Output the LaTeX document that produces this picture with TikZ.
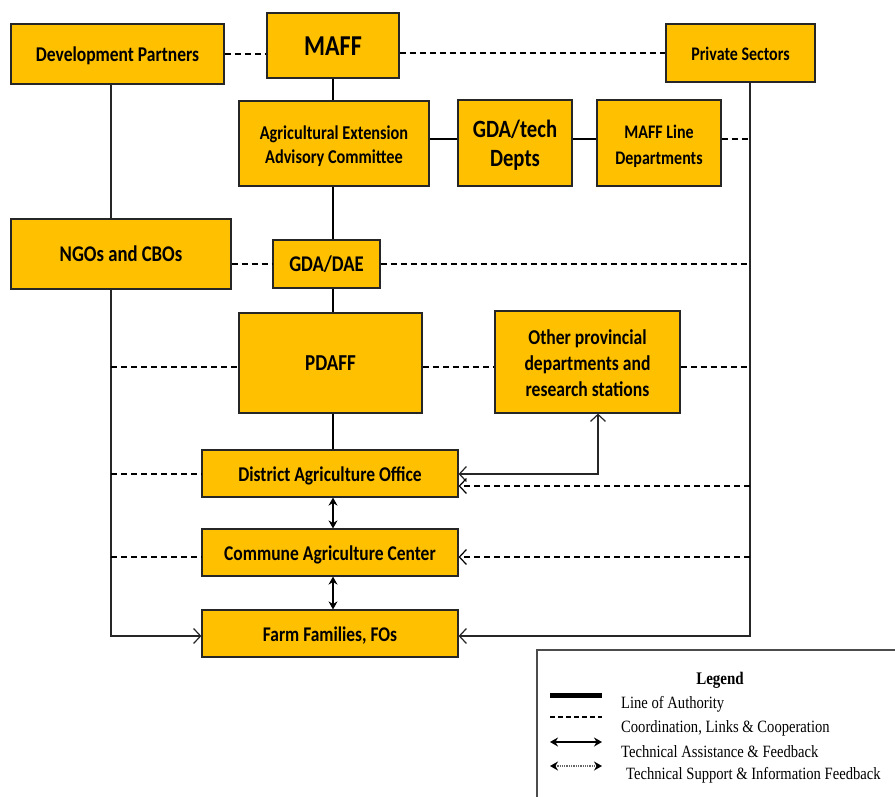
\documentclass[tikz,border=0pt]{standalone}
\usepackage{fontspec}
\usepackage{graphicx}
\setmainfont{Carlito}
\newfontfamily\legfont{Liberation Serif}
\usetikzlibrary{arrows.meta}
\definecolor{boxy}{HTML}{FFC000}
\tikzset{
  box/.style={draw=black!85, line width=1.2pt, fill=boxy, inner sep=0pt, align=center},
  auth/.style={line width=2.2pt, draw=black},
  thinl/.style={line width=1.3pt, draw=black!85},
  coordl/.style={dash pattern=on 6pt off 4pt, line width=1.4pt, draw=black},
  barb/.style={-{Straight Barb[length=7pt,width=15pt,line width=1.2pt]}},
  dbarb/.style={{Straight Barb[length=7pt,width=15pt,line width=1.2pt]}-{Straight Barb[length=7pt,width=15pt,line width=1.2pt]}},
  dstealth/.style={line width=1.5pt, {Stealth[length=8pt,width=9pt]}-{Stealth[length=8pt,width=9pt]}},
  legtext/.style={anchor=west, inner sep=0pt, font=\legfont\fontsize{14.6}{16}\selectfont}
}
\newcommand{\fs}[2]{\bfseries\fontsize{#1}{#2}\selectfont}
\newcommand{\tall}[1]{\raisebox{0pt}[\dimexpr\height+3pt\relax][\dimexpr\depth-3pt\relax]{\scalebox{1}[1.2]{\begin{tabular}{@{}c@{}}#1\end{tabular}}}}
\newcommand{\ltall}[1]{\scalebox{1}[1.18]{#1}}
\begin{document}
\begin{tikzpicture}[x=1pt,y=-1pt]
\useasboundingbox (0,0) rectangle (895,796);
% helper coordinates
\coordinate (xl) at (111,0);
\coordinate (xr) at (750,0);
\coordinate (xm) at (333,0);
\coordinate (yt) at (0,139);
\coordinate (yp) at (0,367);
\coordinate (yda) at (0,474);
\coordinate (yd) at (0,486);
\coordinate (yca) at (0,557);
\coordinate (yff) at (0,636);
\coordinate (ob) at (598,0);
% boxes
\node[box, minimum width=213pt, minimum height=60pt, font=\fs{17.5}{19}] (dp) at (117.5,54) {\tall{Development Partners}};
\node[box, minimum width=132pt, minimum height=65pt, font=\fs{24}{28}] (mf) at (333,45.5) {\tall{MAFF}};
\node[box, minimum width=149pt, minimum height=58pt, font=\fs{16}{18}] (ps) at (740.5,53) {\tall{Private Sectors}};
\node[box, minimum width=190pt, minimum height=85pt, font=\fs{16.3}{20}] (ae) at (334,143.5) {\tall{Agricultural Extension\\Advisory Committee}};
\node[box, minimum width=114pt, minimum height=86pt, font=\fs{20.7}{24}] (gt) at (515,143) {\tall{GDA/tech\\Depts}};
\node[box, minimum width=124pt, minimum height=86pt, font=\fs{16}{21.7}] (ml) at (659,143) {\tall{MAFF Line\\Departments}};
\node[box, minimum width=220pt, minimum height=70pt, font=\fs{18.7}{20}] (ng) at (121,254) {\tall{NGOs and CBOs}};
\node[box, minimum width=107pt, minimum height=48pt, font=\fs{18.7}{20}] (gd) at (326.5,264) {\tall{GDA/DAE}};
\node[box, minimum width=183pt, minimum height=100pt, font=\fs{19}{20}] (pd) at (330.5,363) {\tall{PDAFF}};
\node[box, minimum width=185pt, minimum height=102pt, font=\fs{17.6}{21.7}] (ot) at (587.5,362) {\tall{Other provincial\\departments and\\research stations}};
\node[box, minimum width=256pt, minimum height=47pt, font=\fs{17.5}{19}] (da) at (330,473.5) {\tall{District Agriculture Office}};
\node[box, minimum width=256pt, minimum height=47pt, font=\fs{17.5}{19}] (ca) at (330,552.5) {\tall{Commune Agriculture Center}};
\node[box, minimum width=256pt, minimum height=47pt, font=\fs{17.4}{19}] (ff) at (330,633.5) {\tall{Farm Families, FOs}};
% top row
\draw[coordl] (dp.east) -- (mf.west |- dp.east);
\draw[coordl] (mf.east |- ps.west) -- (ps.west);
\draw[auth] (mf.south -| xm) -- (ae.north -| xm);
\draw[auth] (ae.east |- yt) -- (gt.west |- yt);
\draw[auth] (gt.east |- yt) -- (ml.west |- yt);
\draw[coordl] (ml.east |- yt) -- (yt -| xr);
% side verticals
\draw[thinl, barb] (ps.south -| xr) -- (yff -| xr) -- (ff.east |- yff);
\draw[thinl] (dp.south -| xl) -- (ng.north -| xl);
\draw[thinl, barb] (ng.south -| xl) -- (yff -| xl) -- (ff.west |- yff);
% GDA/DAE
\draw[coordl] (ng.east |- gd.west) -- (gd.west);
\draw[coordl] (gd.east) -- (gd.east -| xr);
\draw[auth] (ae.south -| xm) -- (gd.north -| xm);
\draw[auth] (gd.south -| xm) -- (pd.north -| xm);
\draw[auth] (pd.south -| xm) -- (da.north -| xm);
% PDAFF row
\draw[coordl] (yp -| xl) -- (pd.west |- yp);
\draw[coordl] (pd.east |- yp) -- (ot.west |- yp);
\draw[coordl] (ot.east |- yp) -- (yp -| xr);
% district row
\draw[coordl] (xl |- yda) -- (da.west |- yda);
\draw[thinl, dbarb] (ot.south -| ob) -- (ob |- yda) -- (da.east |- yda);
\draw[coordl, barb] (xr |- yd) -- (da.east |- yd);
% commune row
\draw[coordl] (xl |- yca) -- (ca.west |- yca);
\draw[coordl, barb] (xr |- yca) -- (ca.east |- yca);
\draw[dstealth] (da.south -| xm) -- (ca.north -| xm);
\draw[dstealth] (ca.south -| xm) -- (ff.north -| xm);
% legend
\draw[line width=1.2pt, draw=black!70] (537,650) rectangle (900,800);
\node[font=\legfont\bfseries\fontsize{15}{16}\selectfont, inner sep=0pt] (lg) at (720,680) {\ltall{Legend}};
\coordinate (l1a) at (550,695); \coordinate (l1b) at (602,695);
\coordinate (l2a) at (550,717); \coordinate (l2b) at (602,717);
\coordinate (l3a) at (550,742); \coordinate (l3b) at (602,742);
\coordinate (l4a) at (550,766); \coordinate (l4b) at (602,766);
\draw[line width=5pt] (l1a) -- (l1b);
\draw[line width=1.5pt, dash pattern=on 5pt off 3pt] (l2a) -- (l2b);
\draw[dstealth, line width=1.3pt] (l3a) -- (l3b);
\draw[line width=1.3pt, densely dotted, draw=black!60, {Stealth[length=8pt,width=9pt,black]}-{Stealth[length=8pt,width=9pt,black]}] (l4a) -- (l4b);
\node[legtext] (t1) at (621,704.5) {\ltall{Line of Authority}};
\node[legtext] (t2) at (621,728.5) {\ltall{Coordination, Links \& Cooperation}};
\node[legtext] (t3) at (621,751.5) {\ltall{Technical Assistance \& Feedback}};
\node[legtext] (t4) at (626,775.5) {\ltall{Technical Support \& Information Feedback}};
\end{tikzpicture}
\end{document}
